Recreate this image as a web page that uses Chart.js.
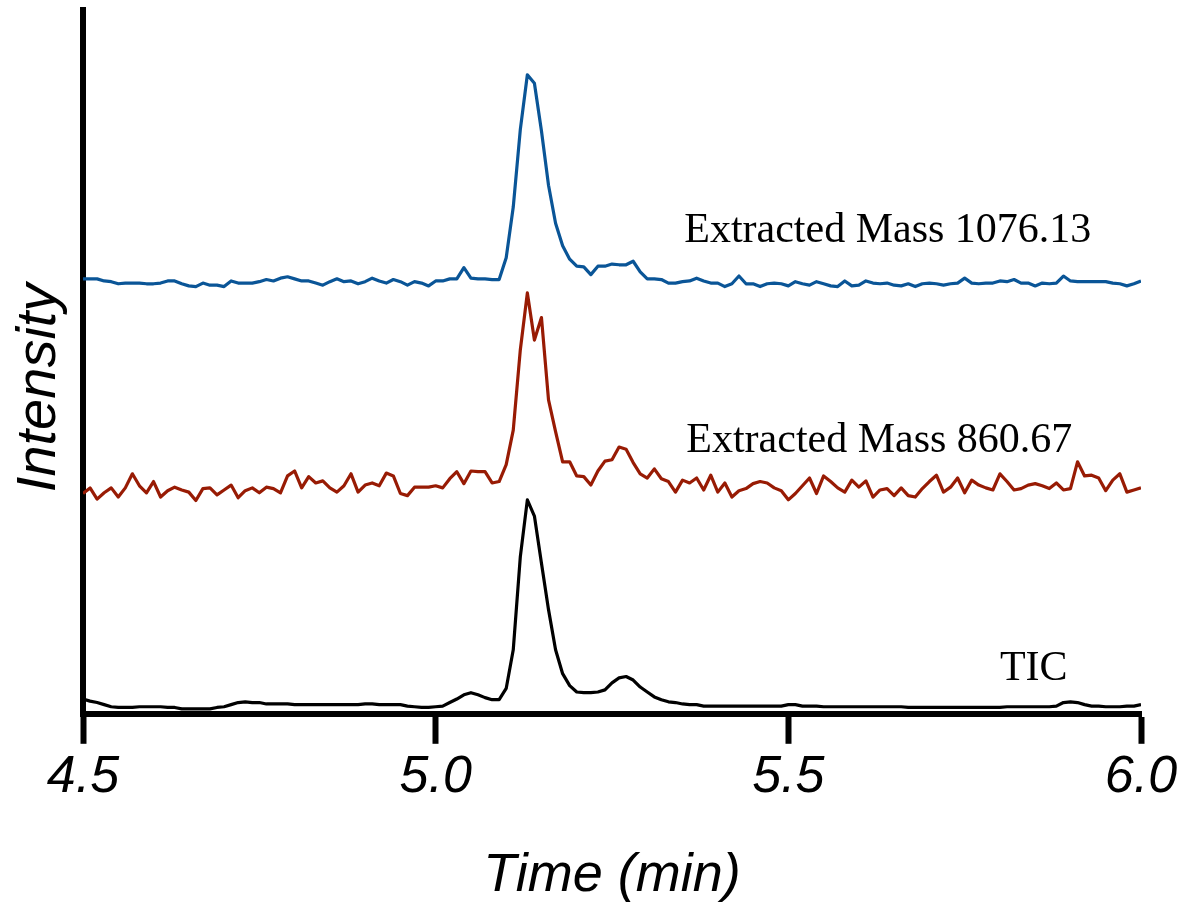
<!DOCTYPE html>
<html>
<head>
<meta charset="utf-8">
<title>Chromatogram</title>
<script src="https://cdn.jsdelivr.net/npm/chart.js@4/dist/chart.umd.min.js"></script>
<style>
  html, body { margin: 0; padding: 0; background: #fff; }
  #wrap { width: 1197px; height: 911px; }
</style>
</head>
<body>
<div id="wrap"><canvas id="chroma_chart" width="1197" height="911"></canvas></div>
<script>
// sampling of the three traces (min)
var startTime = 4.5;
var sampleStep = 0.01;

// TIC (arbitrary units)
var ticValues = [
  2.1, 1.8, 1.6, 1.3, 1.0, 0.9, 0.9, 0.9, 1.0, 1.0,
  1.0, 1.0, 0.9, 0.9, 0.7, 0.7, 0.7, 0.7, 0.7, 0.9,
  1.0, 1.3, 1.6, 1.7, 1.6, 1.6, 1.4, 1.4, 1.4, 1.4,
  1.3, 1.3, 1.3, 1.3, 1.3, 1.3, 1.3, 1.3, 1.3, 1.3,
  1.4, 1.4, 1.3, 1.3, 1.3, 1.3, 1.1, 1.0, 0.9, 0.9,
  1.0, 1.1, 1.6, 2.1, 2.7, 3.0, 2.7, 2.3, 2.0, 2.0,
  3.6, 9.1, 22.3, 30.4, 28.1, 21.4, 14.8, 9.1, 5.7, 4.0,
  3.1, 3.0, 3.0, 3.1, 3.4, 4.4, 5.1, 5.3, 4.8, 3.8,
  3.1, 2.4, 2.0, 1.7, 1.6, 1.4, 1.3, 1.3, 1.1, 1.1,
  1.1, 1.1, 1.1, 1.1, 1.1, 1.1, 1.1, 1.1, 1.1, 1.1,
  1.3, 1.3, 1.1, 1.1, 1.1, 1.0, 1.0, 1.0, 1.0, 1.0,
  1.0, 1.0, 1.0, 1.0, 1.0, 1.0, 1.0, 0.9, 0.9, 0.9,
  0.9, 0.9, 0.9, 0.9, 0.9, 0.9, 0.9, 0.9, 0.9, 0.9,
  0.9, 1.0, 1.0, 1.0, 1.0, 1.0, 1.0, 1.0, 1.1, 1.6,
  1.7, 1.6, 1.3, 1.1, 1.1, 1.0, 1.0, 1.0, 1.1, 1.1,
  1.3
];

// Extracted Mass 860.67
var mass860Values = [
  1.3, 2.1, 0.5, 1.4, 2.1, 0.8, 2.1, 4.1, 2.4, 1.4,
  3.0, 0.8, 1.7, 2.2, 1.8, 1.5, 0.3, 2.0, 2.1, 1.1,
  1.8, 2.5, 0.7, 1.7, 2.1, 1.4, 2.2, 2.0, 1.4, 3.8,
  4.5, 2.1, 3.7, 2.8, 3.1, 2.1, 1.5, 2.4, 4.1, 1.5,
  2.5, 2.8, 2.4, 4.2, 3.8, 1.3, 1.0, 2.2, 2.2, 2.2,
  2.4, 2.1, 3.4, 4.4, 2.7, 4.5, 4.4, 4.4, 2.8, 3.0,
  5.4, 10.3, 21.7, 29.8, 23.1, 26.3, 14.6, 10.1, 5.8, 5.8,
  3.8, 3.7, 2.5, 4.5, 5.9, 6.1, 7.9, 7.6, 5.7, 4.1,
  3.5, 4.8, 3.4, 3.0, 1.5, 3.2, 2.8, 3.5, 1.8, 3.9,
  1.5, 2.8, 0.8, 1.7, 2.0, 2.7, 3.0, 2.8, 2.1, 1.7,
  0.4, 1.3, 2.4, 3.5, 1.3, 3.8, 3.0, 2.1, 1.5, 3.2,
  2.2, 3.1, 0.8, 1.8, 2.0, 1.0, 2.1, 1.0, 0.8, 2.0,
  3.0, 3.9, 1.5, 2.2, 3.5, 1.4, 3.2, 2.5, 2.1, 1.8,
  4.1, 3.0, 1.8, 2.0, 2.5, 2.7, 2.4, 2.0, 2.8, 1.8,
  2.0, 5.8, 3.8, 3.9, 3.5, 1.7, 3.2, 4.1, 1.5, 1.8,
  2.1
];

// Extracted Mass 1076.13
var mass1076Values = [
  1.8, 1.8, 1.8, 1.5, 1.4, 1.1, 1.2, 1.2, 1.2, 1.1,
  1.1, 1.2, 1.5, 1.5, 1.1, 0.8, 0.7, 1.2, 0.9, 0.9,
  0.7, 1.5, 1.2, 1.2, 1.2, 1.4, 1.7, 1.5, 1.9, 2.1,
  1.8, 1.5, 1.5, 1.2, 0.9, 1.4, 1.8, 1.4, 1.5, 1.1,
  1.4, 1.9, 1.5, 1.2, 1.7, 1.4, 0.9, 1.4, 1.2, 0.8,
  1.5, 1.5, 1.8, 1.8, 3.4, 1.9, 1.8, 1.8, 1.7, 1.7,
  4.8, 12.0, 23.0, 30.8, 29.6, 22.8, 15.1, 9.7, 6.5, 4.6,
  3.6, 3.5, 2.4, 3.6, 3.6, 3.9, 3.8, 3.8, 4.3, 2.8,
  1.8, 1.8, 1.7, 1.2, 1.2, 1.4, 1.5, 1.9, 1.5, 1.2,
  1.2, 0.7, 1.1, 2.2, 1.1, 1.1, 0.7, 1.1, 1.2, 1.1,
  0.8, 1.4, 1.1, 0.9, 1.4, 1.1, 0.8, 0.7, 1.5, 0.8,
  0.9, 1.5, 1.2, 1.1, 1.2, 0.9, 0.8, 1.1, 0.7, 1.1,
  1.2, 1.1, 0.9, 1.1, 1.2, 1.9, 1.2, 1.1, 1.2, 1.2,
  1.5, 1.4, 1.7, 1.2, 1.2, 0.8, 1.2, 1.1, 1.2, 2.2,
  1.5, 1.4, 1.4, 1.4, 1.4, 1.4, 1.2, 1.1, 0.8, 1.1,
  1.5
];

var traceNames = ["TIC", "Extracted Mass 860.67", "Extracted Mass 1076.13"];
var traceColors = ["#000000", "#981b04", "#0a5597"];
var traceOffsets = [0, 30, 60];   // vertical stacking of the traces
var traceLabelTimes = [5.848, 5.629, 5.641];
var traceLabelLevels = [4.8, 37.2, 67.0];

var xTicks = [4.5, 5.0, 5.5, 6.0];
var yTitle = "Intensity";

function buildPoints(values, offset) {
    var pts = [];
    for (var i = 0; i < values.length; i++) {
        pts.push({ x: startTime + i * sampleStep, y: values[i] + offset });
    }
    return pts;
}

var allValues = [ticValues, mass860Values, mass1076Values];
var datasets = [];
for (var k = 0; k < allValues.length; k++) {
    datasets.push({
        label: traceNames[k],
        data: buildPoints(allValues[k], traceOffsets[k]),
        borderColor: traceColors[k],
        borderWidth: 3.2,
        pointRadius: 0,
        tension: 0,
        fill: false,
        borderJoinStyle: 'round'
    });
}

var axisFont = '"Liberation Sans", Arial, Helvetica, sans-serif';

// trace names next to each chromatogram, plus the rotated y title
var traceLabels = {
    id: 'traceLabels',
    afterDatasetsDraw: function (chart) {
        var ctx = chart.ctx;
        var xs = chart.scales.x, ys = chart.scales.y;
        ctx.save();
        ctx.fillStyle = '#000';
        ctx.font = '42px "Liberation Serif", "Times New Roman", serif';
        ctx.textAlign = 'center';
        ctx.textBaseline = 'alphabetic';
        for (var k = 0; k < traceNames.length; k++) {
            ctx.fillText(traceNames[k], xs.getPixelForValue(traceLabelTimes[k]), ys.getPixelForValue(traceLabelLevels[k]));
        }
        // y title sits a bit below the middle of the axis in the original
        ctx.translate(chart.chartArea.left - 28, (chart.chartArea.top + chart.chartArea.bottom) / 2 + 26);
        ctx.rotate(-Math.PI / 2);
        ctx.font = 'italic 56px ' + axisFont;
        ctx.fillText(yTitle, 0, 0);
        ctx.restore();
    }
};

var chart = new Chart(document.getElementById('chroma_chart'), {
    type: 'line',
    data: { datasets: datasets },
    plugins: [traceLabels],
    options: {
        responsive: false,
        animation: false,
        devicePixelRatio: 1,
        layout: { padding: { left: 83, right: 56, top: 10, bottom: 3 } },
        plugins: {
            legend: { display: false },
            tooltip: { enabled: false }
        },
        scales: {
            x: {
                type: 'linear',
                min: 4.5,
                max: 6.0,
                afterBuildTicks: function (axis) {
                    axis.ticks = xTicks.map(function (v) { return { value: v }; });
                },
                ticks: {
                    color: '#000',
                    padding: 3,
                    maxRotation: 0,
                    font: { family: axisFont, size: 52, style: 'italic' },
                    callback: function (v) { return Number(v).toFixed(1); }
                },
                grid: {
                    drawOnChartArea: false,
                    drawTicks: true,
                    tickLength: 30,
                    tickWidth: 6,
                    tickColor: '#000'
                },
                border: { display: true, color: '#000', width: 6 },
                title: {
                    display: true,
                    text: 'Time (min)',
                    color: '#000',
                    font: { family: axisFont, size: 54, style: 'italic' },
                    padding: { top: 31, bottom: 0 }
                }
            },
            y: {
                type: 'linear',
                min: 0,
                max: 100,
                ticks: { display: false },
                grid: { drawOnChartArea: false, drawTicks: false },
                border: { display: true, color: '#000', width: 6 },
                title: { display: false }
            }
        }
    }
});
</script>
</body>
</html>
